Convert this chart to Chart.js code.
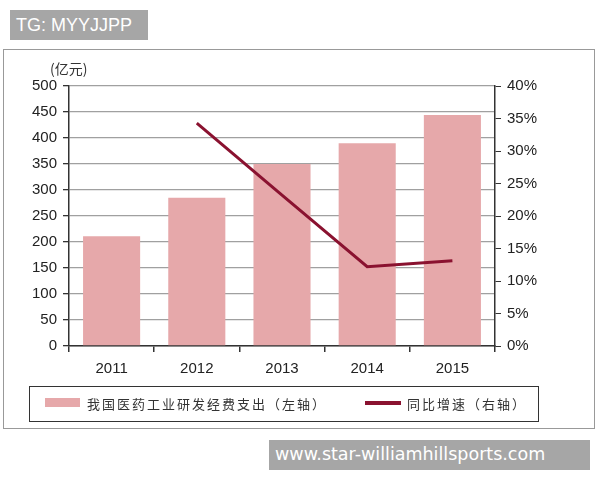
<!DOCTYPE html>
<html><head><meta charset="utf-8">
<script src="https://cdn.jsdelivr.net/npm/chart.js@4.4.0/dist/chart.umd.min.js"></script>
<style>
html,body{margin:0;padding:0;background:#fff;}
#wrap{position:relative;width:600px;height:480px;overflow:hidden;}
#c{position:absolute;left:0;top:0;}
.frame{position:absolute;left:3px;top:49px;width:592px;height:380px;border:1px solid #999;box-sizing:border-box;}
.wm1{position:absolute;left:10px;top:10px;width:138px;height:30px;background:#a6a6a6;color:#fff;font:18px "Liberation Sans",Arial,sans-serif;line-height:30px;padding-left:6px;box-sizing:border-box;}
.wm2{position:absolute;left:269px;top:440px;width:321px;height:30px;background:#a6a6a6;color:#fff;font:17.5px "DejaVu Sans",sans-serif;line-height:29px;padding-left:6px;box-sizing:border-box;}
.unit{position:absolute;left:50px;top:58px;font:14px "Noto Sans CJK SC",sans-serif;color:#333;}
.legend{position:absolute;left:29px;top:386px;width:510px;height:36px;border:1px solid #333;box-sizing:border-box;font:13px "Noto Sans CJK SC",sans-serif;color:#333;letter-spacing:2px;}
.sw1{position:absolute;left:15px;top:11px;width:35px;height:9px;background:#e6a8aa;}
.t1{position:absolute;left:57px;top:7px;}
.sw2{position:absolute;left:335px;top:14px;width:36px;height:4px;background:#8a1230;}
.t2{position:absolute;left:377px;top:7px;}
</style></head>
<body><div id="wrap">
<div class="frame"></div>
<canvas id="c" width="600" height="480"></canvas>
<div class="unit">(亿元)</div>
<div class="legend"><div class="sw1"></div><div class="t1">我国医药工业研发经费支出（左轴）</div><div class="sw2"></div><div class="t2">同比增速（右轴）</div></div>
<div class="wm1">TG: MYYJJPP</div>
<div class="wm2">www.star-williamhillsports.com</div>
</div>
<script>
const years = ['2011','2012','2013','2014','2015'];
const spending = [211, 285, 350, 390, 444];
const growth = [null, 34.3, 23.2, 12.2, 13.1];
const leftTicks = [0,50,100,150,200,250,300,350,400,450,500];
const rightTicks = [0,5,10,15,20,25,30,35,40];

const tickFont = {family:'"Liberation Sans", Arial, sans-serif', size:15};
new Chart(document.getElementById('c'), {
  data: {
    labels: years,
    datasets: [
      {type:'line', label:'同比增速（右轴）', data:growth, yAxisID:'y1', borderColor:'#8a1230', borderWidth:3, pointRadius:0, fill:false, tension:0, order:0},
      {type:'bar', label:'我国医药工业研发经费支出（左轴）', data:spending, yAxisID:'y', backgroundColor:'#e6a8aa', categoryPercentage:0.67, barPercentage:1.0, order:1}
    ]
  },
  options: {
    responsive:false, animation:false, devicePixelRatio:1,
    layout:{padding:{left:0,right:0,top:86,bottom:0}},
    plugins:{legend:{display:false}, tooltip:{enabled:false}},
    scales:{
      x:{
        offset:true,
        grid:{display:true, drawOnChartArea:false, offset:true, tickColor:'#333', tickLength:6, lineWidth:1.5},
        border:{color:'#333', width:1.5},
        ticks:{font:tickFont, color:'#222', padding:8},
        afterFit:s=>{s.height=134;}
      },
      y:{
        position:'left', min:0, max:500,
        afterBuildTicks:s=>{s.ticks=leftTicks.map(v=>({value:v}));},
        grid:{color:'#a0a0a0', lineWidth:1.3, tickColor:'#333', tickLength:6},
        border:{color:'#333', width:1.5},
        ticks:{font:tickFont, color:'#222', padding:6},
        afterFit:s=>{s.width=69;}
      },
      y1:{
        position:'right', min:0, max:40,
        afterBuildTicks:s=>{s.ticks=rightTicks.map(v=>({value:v}));},
        grid:{drawOnChartArea:false, tickColor:'#333', tickLength:6},
        border:{color:'#333', width:1.5},
        ticks:{font:tickFont, color:'#222', padding:6, callback:v=>v+'%'},
        afterFit:s=>{s.width=105;}
      }
    }
  }
});
</script>
</body></html>
